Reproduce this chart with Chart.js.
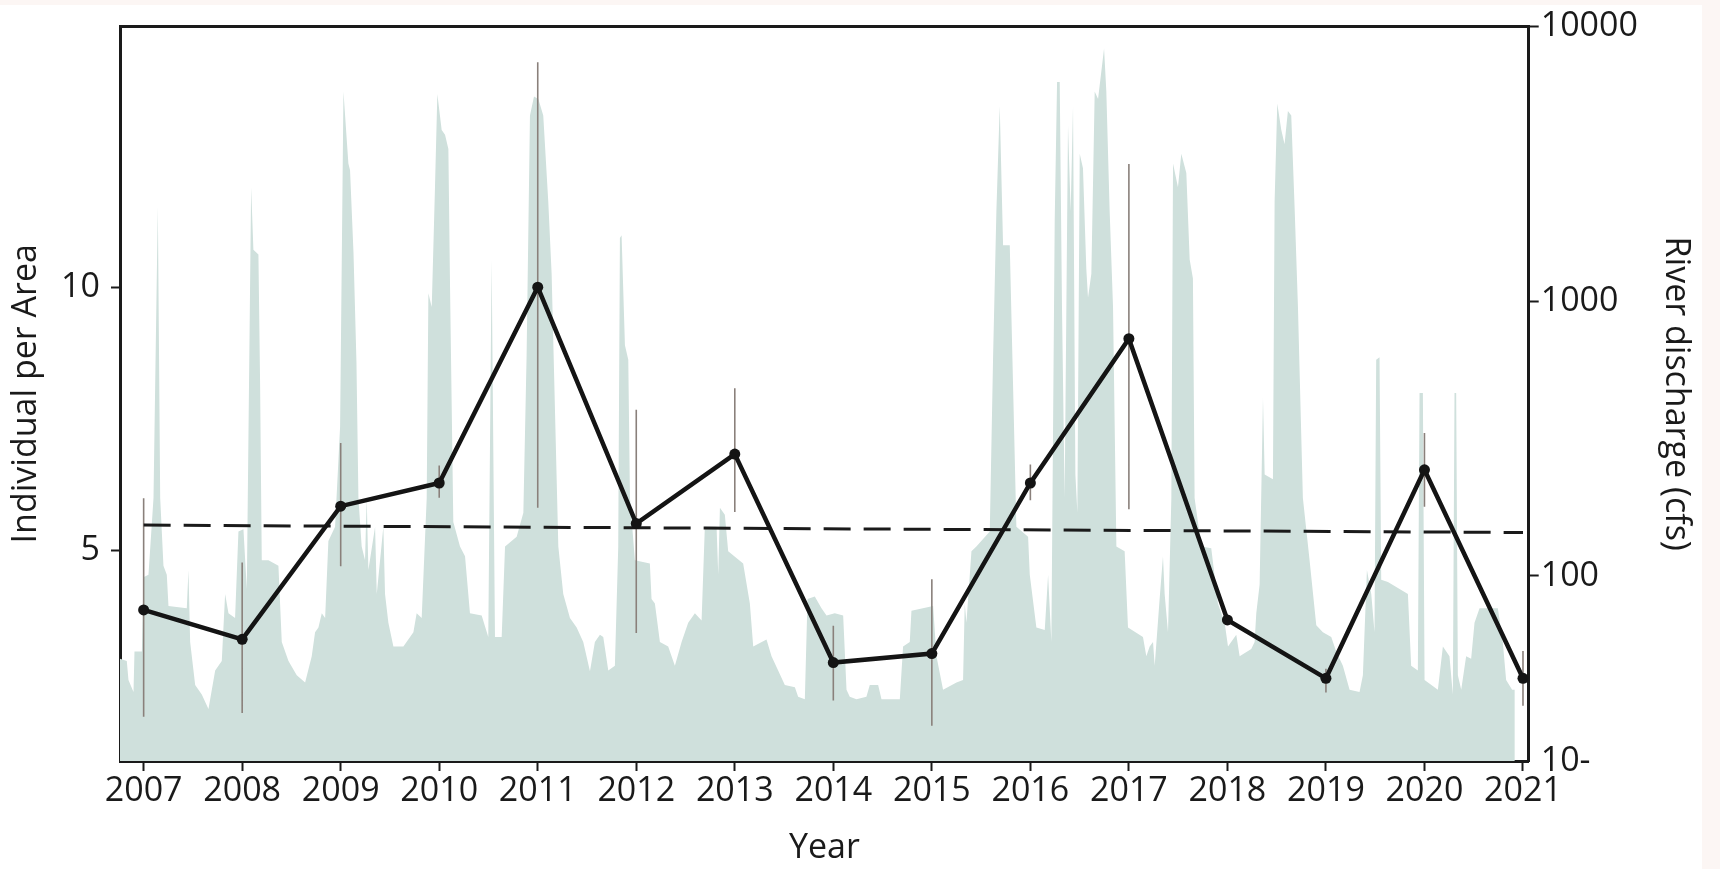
<!DOCTYPE html>
<html>
<head>
<meta charset="utf-8">
<script src="https://cdn.jsdelivr.net/npm/chart.js@4.4.0/dist/chart.umd.min.js"></script>
<style>
  html, body { margin: 0; padding: 0; background: #fcf6f4; }
  #wrap { position: absolute; left: 0; top: 5px; width: 1702px; height: 864px; background: #fff; }
</style>
</head>
<body>
<div id="wrap"><canvas id="chart" width="1702" height="864"></canvas></div>
<script>
// yearly survey: individuals per area, with error range
const years = [2007, 2008, 2009, 2010, 2011, 2012, 2013, 2014, 2015, 2016, 2017, 2018, 2019, 2020, 2021];
const individuals = [3.87, 3.31, 5.84, 6.28, 10.0, 5.51, 6.83, 2.87, 3.04, 6.28, 9.02, 3.68, 2.57, 6.53, 2.57];
const errLow  = [1.84, 1.91, 4.70, 6.00, 5.81, 3.43, 5.73, 2.15, 1.67, 5.95, 5.78, 3.68, 2.30, 5.83, 2.05];
const errHigh = [5.99, 4.77, 7.04, 6.61, 14.27, 7.67, 8.08, 3.57, 4.45, 6.63, 12.34, 3.68, 2.75, 7.23, 3.09];

// linear trend (dashed)
const trendYears = [2007, 2021];
const trendValues = [5.48, 5.34];

// river discharge (cfs)
const dischargeDates = [
  2006.76, 2006.829, 2006.846, 2006.897, 2006.907, 2006.982, 2006.998, 2007.049, 2007.100, 2007.144,
  2007.168, 2007.201, 2007.235, 2007.252, 2007.438, 2007.455, 2007.472, 2007.523, 2007.590, 2007.658,
  2007.726, 2007.793, 2007.827, 2007.861, 2007.928, 2007.962, 2008.013, 2008.047, 2008.091, 2008.114,
  2008.165, 2008.182, 2008.199, 2008.267, 2008.368, 2008.402, 2008.470, 2008.554, 2008.639, 2008.706,
  2008.740, 2008.774, 2008.808, 2008.842, 2008.875, 2008.943, 2008.994, 2009.028, 2009.078, 2009.095,
  2009.130, 2009.160, 2009.180, 2009.213, 2009.247, 2009.264, 2009.281, 2009.349, 2009.366, 2009.433,
  2009.450, 2009.484, 2009.535, 2009.636, 2009.738, 2009.771, 2009.822, 2009.873, 2009.890, 2009.924,
  2009.957, 2009.981, 2010.025, 2010.059, 2010.093, 2010.110, 2010.143, 2010.211, 2010.262, 2010.312,
  2010.431, 2010.498, 2010.532, 2010.566, 2010.634, 2010.668, 2010.786, 2010.854, 2010.887, 2010.921,
  2010.962, 2011.006, 2011.056, 2011.107, 2011.141, 2011.209, 2011.259, 2011.327, 2011.395, 2011.462,
  2011.530, 2011.580, 2011.631, 2011.665, 2011.716, 2011.783, 2011.817, 2011.834, 2011.851, 2011.885,
  2011.919, 2011.936, 2011.986, 2012.138, 2012.155, 2012.189, 2012.240, 2012.324, 2012.392, 2012.460,
  2012.527, 2012.595, 2012.663, 2012.696, 2012.815, 2012.832, 2012.849, 2012.899, 2012.933, 2013.085,
  2013.153, 2013.187, 2013.322, 2013.373, 2013.440, 2013.508, 2013.610, 2013.643, 2013.711, 2013.738,
  2013.812, 2013.880, 2013.931, 2014.015, 2014.100, 2014.134, 2014.167, 2014.235, 2014.336, 2014.370,
  2014.455, 2014.489, 2014.675, 2014.708, 2014.776, 2014.793, 2015.013, 2015.047, 2015.114, 2015.250,
  2015.317, 2015.334, 2015.351, 2015.402, 2015.452, 2015.588, 2015.622, 2015.655, 2015.689, 2015.723,
  2015.791, 2015.824, 2015.858, 2015.977, 2015.994, 2016.061, 2016.146, 2016.180, 2016.213, 2016.247,
  2016.271, 2016.298, 2016.321, 2016.348, 2016.382, 2016.409, 2016.433, 2016.457, 2016.477, 2016.501,
  2016.534, 2016.568, 2016.585, 2016.619, 2016.653, 2016.687, 2016.748, 2016.771, 2016.805, 2016.839,
  2016.856, 2016.873, 2016.957, 2016.991, 2017.143, 2017.177, 2017.211, 2017.245, 2017.262, 2017.312,
  2017.346, 2017.363, 2017.397, 2017.431, 2017.448, 2017.498, 2017.532, 2017.583, 2017.617, 2017.650,
  2017.667, 2017.735, 2017.836, 2017.904, 2017.972, 2018.006, 2018.090, 2018.124, 2018.242, 2018.276,
  2018.293, 2018.327, 2018.361, 2018.378, 2018.462, 2018.479, 2018.506, 2018.547, 2018.580, 2018.614,
  2018.648, 2018.682, 2018.716, 2018.766, 2018.834, 2018.902, 2018.969, 2019.054, 2019.104, 2019.172,
  2019.240, 2019.341, 2019.375, 2019.416, 2019.460, 2019.493, 2019.510, 2019.544, 2019.561, 2019.629,
  2019.832, 2019.865, 2019.933, 2019.950, 2019.984, 2020.001, 2020.136, 2020.187, 2020.254, 2020.288,
  2020.305, 2020.322, 2020.339, 2020.373, 2020.423, 2020.474, 2020.508, 2020.559, 2020.745, 2020.795,
  2020.829, 2020.890, 2020.917
];
const dischargeCfs = [
  50, 49, 41.8, 37.8, 53.1, 53.1, 98.8, 101, 192, 2210,
  192, 109, 101, 77.8, 76.2, 105, 57.5, 40.1, 37.0, 32.8,
  45.3, 49.0, 85.9, 73.2, 70.3, 145, 148, 89.4, 2600, 1540,
  1480, 501, 114, 114, 109, 57.5, 49.0, 43.5, 40.9, 51.0,
  62.4, 64.9, 73.2, 70.3, 134, 151, 350, 5800, 3170, 3000,
  1500, 600, 192, 128, 114, 192, 105, 151, 85.9, 151,
  85.9, 67.6, 55.3, 55.3, 62.4, 73.2, 70.3, 192, 1070, 952,
  2600, 5680, 4200, 4040, 3580, 1120, 157, 128, 118, 73.2,
  71.8, 59.9, 1420, 59.9, 59.9, 128, 139, 170, 638, 4740,
  5560, 5450, 4740, 2300, 1260, 128, 85.9, 70.3, 64.9, 57.5,
  45, 57.5, 61.1, 59.9, 45.3, 47.1, 128, 1700, 1740, 692,
  612, 192, 114, 111, 82.5, 79.3, 57.5, 55.3, 47.1, 57.5,
  67.6, 73.2, 68.9, 151, 151, 101, 177, 167, 123, 111,
  79.3, 55.3, 58.7, 51.0, 45.3, 40.1, 39.3, 36.3, 35.6, 82.5,
  84.1, 76.2, 71.8, 73.2, 71.8, 38.5, 36.3, 35.6, 36.3, 40.1,
  40.1, 35.6, 35.6, 55.3, 57.5, 74.7, 77.8, 51.0, 38.5, 40.9,
  41.8, 79.3, 67.6, 123, 128, 145, 638, 2120, 5140, 1600,
  1600, 501, 151, 139, 101, 64.9, 63.6, 101, 57.5, 1960,
  6280, 6280, 952, 192, 4380, 2120, 5140, 234, 170, 3440,
  3050, 1310, 1030, 1260, 5800, 5450, 8310, 5800, 2120, 952,
  350, 128, 123, 64.9, 59.9, 51.0, 55.3, 57.5, 47.1, 82.5,
  118, 85.9, 62.4, 192, 3170, 2600, 3440, 2930, 1420, 1210,
  192, 128, 126, 79.3, 67.6, 55.3, 61.1, 51.0, 54.2, 57.5,
  73.2, 93.1, 445, 234, 225, 2300, 5240, 4200, 3730, 4930,
  4740, 2200, 952, 192, 114, 66.2, 62.4, 59.9, 53.1, 47.1,
  38.5, 37.8, 43.5, 105, 85.9, 62.4, 612, 625, 96.9, 95.0,
  85.9, 47.1, 45.3, 463, 463, 41.8, 38.5, 55.3, 51.0, 37.0,
  463, 463, 43.5, 38.5, 51.0, 50.0, 67.6, 76.2, 76.2, 57.5,
  41.8, 38.5, 38.5
];

const yTicks = [5, 10];
// the figure's right axis puts "10" at the bottom edge of the frame
const dischargeTicks = [21.2, 100, 1000, 10000];
const dischargeTickLabels = ['10-', '100', '1000', '10000'];

const ink = '#1a1a1a';
Chart.defaults.font.family = '"Open Sans", sans-serif';
Chart.defaults.font.size = 34;
Chart.defaults.color = ink;

function xy(xs, ys) {
  return xs.map((x, i) => ({x: x, y: ys[i]}));
}

const errorSegments = [];
years.forEach((yr, i) => {
  errorSegments.push({x: yr, y: errLow[i]}, {x: yr, y: errHigh[i]}, {x: yr, y: null});
});

const frame = {color: ink, width: 3};

// fixed box sizes so the plot frame lands where the figure has it
function fixWidth(w) {
  return s => { s.width = w; s.paddingTop = 0; s.paddingBottom = 0; };
}
function fixHeight(h) {
  return s => { s.height = h; s.paddingLeft = 0; s.paddingRight = 0; };
}

new Chart('chart', {
  type: 'line',
  data: {
    datasets: [
      {
        label: 'River discharge',
        data: xy(dischargeDates, dischargeCfs),
        yAxisID: 'y2',
        fill: 'start',
        backgroundColor: '#cfe0dc',
        borderWidth: 0,
        pointRadius: 0,
        tension: 0,
        order: 4
      },
      {
        label: 'error',
        data: errorSegments,
        yAxisID: 'y',
        borderColor: '#8a807b',
        borderWidth: 1.6,
        pointRadius: 0,
        spanGaps: false,
        order: 3
      },
      {
        label: 'trend',
        data: xy(trendYears, trendValues),
        yAxisID: 'y',
        borderColor: ink,
        borderWidth: 3,
        borderDash: [27, 13],
        pointRadius: 0,
        order: 2
      },
      {
        label: 'Individual per Area',
        data: xy(years, individuals),
        yAxisID: 'y',
        borderColor: '#141414',
        borderWidth: 4.5,
        pointRadius: 5.5,
        pointBackgroundColor: '#141414',
        pointBorderWidth: 0,
        tension: 0,
        order: 1
      }
    ]
  },
  options: {
    responsive: false,
    devicePixelRatio: 1,
    animation: false,
    events: [],
    layout: {padding: 0},
    plugins: {
      legend: {display: false},
      tooltip: {enabled: false}
    },
    scales: {
      x: {
        type: 'linear',
        position: 'bottom',
        min: 2006.76,
        max: 2021.058,
        afterBuildTicks: s => { s.ticks = years.map(v => ({value: v})); },
        afterFit: fixHeight(108),
        ticks: {padding: 0, maxRotation: 0, autoSkip: false, callback: v => String(v)},
        grid: {drawOnChartArea: false, tickLength: 10, tickWidth: 2, tickColor: ink},
        border: frame,
        title: {display: true, text: 'Year', padding: {top: 0, bottom: 0}}
      },
      x2: {
        type: 'linear',
        position: 'top',
        min: 2006.76,
        max: 2021.058,
        afterFit: fixHeight(21.5),
        ticks: {display: false},
        grid: {drawOnChartArea: false, drawTicks: false},
        border: frame
      },
      y: {
        type: 'linear',
        position: 'left',
        min: 1,
        max: 14.95,
        afterBuildTicks: s => { s.ticks = yTicks.map(v => ({value: v})); },
        afterFit: fixWidth(120),
        ticks: {padding: 11},
        grid: {drawOnChartArea: false, tickLength: 9, tickWidth: 2, tickColor: ink},
        border: frame,
        title: {display: true, text: 'Individual per Area', padding: {top: 6, bottom: 0}}
      },
      y2: {
        type: 'logarithmic',
        position: 'right',
        min: 21.2,
        max: 10000,
        afterBuildTicks: s => { s.ticks = dischargeTicks.map(v => ({value: v})); },
        afterFit: fixWidth(173.3),
        ticks: {padding: 2, autoSkip: false, callback: (v, i) => dischargeTickLabels[i]},
        grid: {
          drawOnChartArea: false,
          tickLength: 10,
          tickWidth: 2,
          tickColor: c => c.index === 0 ? 'rgba(0,0,0,0)' : ink
        },
        border: frame,
        title: {display: true, text: 'River discharge (cfs)', padding: {top: 6, bottom: 0}}
      }
    }
  }
});
</script>
</body>
</html>
